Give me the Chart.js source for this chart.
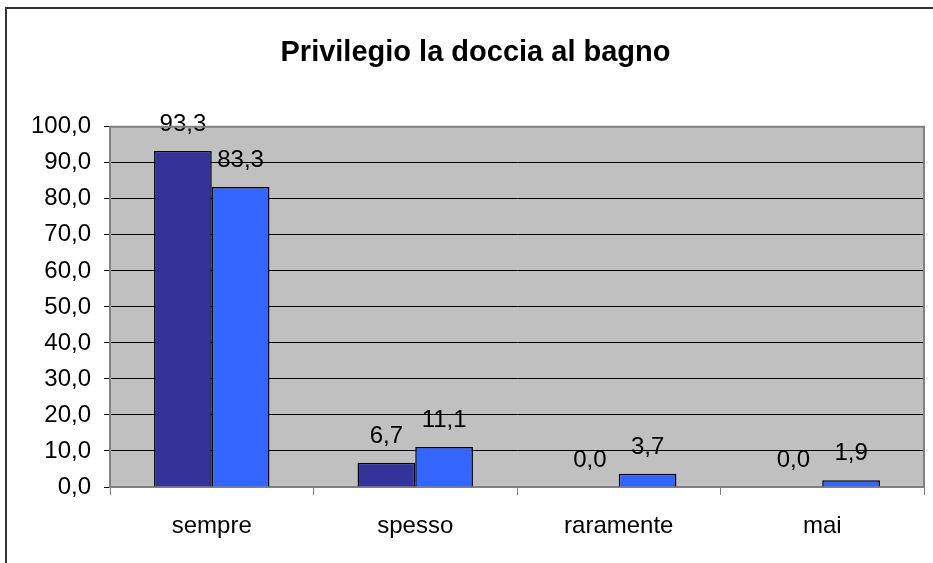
<!DOCTYPE html>
<html lang="it">
<head>
    <meta charset="UTF-8">
    <title>Privilegio la doccia al bagno</title>
    <style>
        body {
            margin: 0;
            background: #fff;
            overflow: hidden;
        }
        .wrap {
            position: relative;
            width: 933px;
            height: 563px;
        }
        .frame {
            position: absolute;
            left: 5px;
            top: 7px;
            width: 1000px;
            height: 1000px;
            border-top: 2px solid #333;
            border-left: 2px solid #333;
            pointer-events: none;
        }
    </style>
</head>
<body>
    <div class="wrap">
        <canvas id="chart" width="933" height="563"></canvas>
        <div class="frame"></div>
    </div>

    <script src="https://cdn.jsdelivr.net/npm/chart.js"></script>
    <script>
        const categories = ['sempre', 'spesso', 'raramente', 'mai'];
        const series1 = [93.3, 6.7, 0.0, 0.0];
        const series2 = [83.3, 11.1, 3.7, 1.9];
        const yTicks = [0, 10, 20, 30, 40, 50, 60, 70, 80, 90, 100];

        const FONT = "'Liberation Sans', Arial, sans-serif";

        function fmt(v) {
            return Number(v).toFixed(1).replace('.', ',');
        }

        // grey plot background + top/right border
        const plotArea = {
            id: 'plotArea',
            beforeDraw(chart) {
                const a = chart.chartArea;
                const ctx = chart.ctx;
                ctx.save();
                ctx.fillStyle = '#C0C0C0';
                ctx.fillRect(a.left, a.top, a.right - a.left, a.bottom - a.top);
                ctx.restore();
            },
            afterDraw(chart) {
                const a = chart.chartArea;
                const ctx = chart.ctx;
                ctx.save();
                ctx.strokeStyle = '#808080';
                ctx.lineWidth = 2;
                ctx.beginPath();
                ctx.moveTo(a.left, a.top);
                ctx.lineTo(a.right, a.top);
                ctx.lineTo(a.right, a.bottom);
                ctx.stroke();
                ctx.restore();
            }
        };

        // value labels above each bar
        const valueLabels = {
            id: 'valueLabels',
            afterDatasetsDraw(chart) {
                const ctx = chart.ctx;
                ctx.save();
                ctx.font = '24px ' + FONT;
                ctx.fillStyle = '#000';
                ctx.textAlign = 'center';
                ctx.textBaseline = 'alphabetic';
                chart.data.datasets.forEach((ds, i) => {
                    chart.getDatasetMeta(i).data.forEach((bar, j) => {
                        ctx.fillText(fmt(ds.data[j]), bar.x, bar.y - 20);
                    });
                });
                ctx.restore();
            }
        };

        new Chart(document.getElementById('chart'), {
            type: 'bar',
            data: {
                labels: categories,
                datasets: [
                    {
                        data: series1,
                        backgroundColor: '#333399',
                        borderColor: '#000',
                        borderWidth: 1.5,
                        categoryPercentage: 0.567,
                        barPercentage: 1
                    },
                    {
                        data: series2,
                        backgroundColor: '#3366FF',
                        borderColor: '#000',
                        borderWidth: 1.5,
                        categoryPercentage: 0.567,
                        barPercentage: 1
                    }
                ]
            },
            options: {
                responsive: false,
                animation: false,
                layout: {
                    padding: { left: 27, right: 9, top: 0, bottom: 0 }
                },
                plugins: {
                    legend: { display: false },
                    tooltip: { enabled: false },
                    title: {
                        display: true,
                        text: 'Privilegio la doccia al bagno',
                        color: '#000',
                        font: { family: FONT, size: 29, weight: 'bold' },
                        padding: { top: 36, bottom: 56 }
                    }
                },
                scales: {
                    x: {
                        grid: {
                            offset: true,
                            drawOnChartArea: false,
                            color: '#808080',
                            tickLength: 8
                        },
                        border: { color: '#808080', width: 2 },
                        ticks: {
                            color: '#000',
                            padding: 17,
                            font: { family: FONT, size: 24 }
                        },
                        afterFit(scale) { scale.height = 76; }
                    },
                    y: {
                        min: 0,
                        max: 100,
                        afterBuildTicks(scale) {
                            scale.ticks = yTicks.map(v => ({ value: v }));
                        },
                        grid: {
                            color: '#000',
                            tickLength: 6
                        },
                        border: { color: '#808080', width: 2 },
                        ticks: {
                            color: '#000',
                            padding: 13,
                            font: { family: FONT, size: 24 },
                            callback: v => fmt(v)
                        },
                        afterFit(scale) { scale.width = 83; }
                    }
                }
            },
            plugins: [plotArea, valueLabels]
        });
    </script>
</body>
</html>
